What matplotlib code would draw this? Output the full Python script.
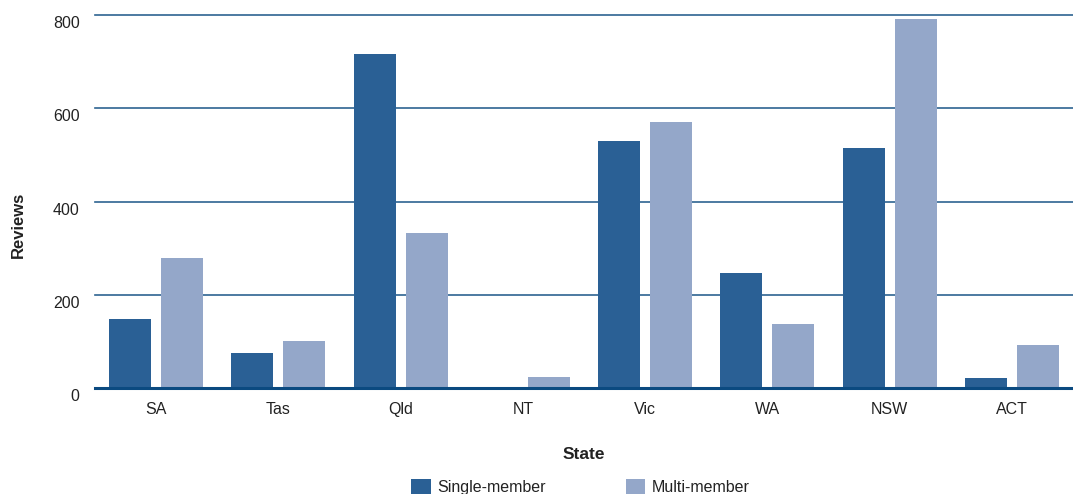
import matplotlib.pyplot as plt
import matplotlib.transforms as mtransforms
import numpy as np

plt.rcParams["font.family"] = ["Liberation Sans", "DejaVu Sans"]

# Reviews by state
states = ["SA", "Tas", "Qld", "NT", "Vic", "WA", "NSW", "ACT"]
single_member = [147, 75, 716, 0, 530, 247, 515, 21]
multi_member = [278, 101, 333, 24, 571, 137, 792, 92]

single_colour = "#2a6095"
multi_colour = "#94a7c9"

fig = plt.figure(figsize=(10.73, 4.94), dpi=100)
ax = fig.add_axes([0.0885, 0.2146, 0.9115, 0.755])

x = np.arange(len(states))
width = 0.344
gap = 0.082
ax.bar(x - (width + gap) / 2, single_member, width, color=single_colour,
       label="Single-member", zorder=3)
ax.bar(x + (width + gap) / 2, multi_member, width, color=multi_colour,
       label="Multi-member", zorder=3)

ax.set_xlim(-0.5, len(states) - 0.5)
ax.set_ylim(0, 800)
ax.set_yticks([0, 200, 400, 600, 800])
ax.set_xticks(x)
ax.set_xticklabels(states)

for y in [200, 400, 600, 800]:
    ax.axhline(y, color="#2d6391", lw=1.2, zorder=1, clip_on=False)
ax.axhline(0, color="#0b4a80", lw=2.2, zorder=4, clip_on=False)

for side in ["top", "right", "left", "bottom"]:
    ax.spines[side].set_visible(False)
ax.tick_params(axis="both", length=0, labelsize=11.5, colors="#222222")
ax.tick_params(axis="y", pad=11)
ax.tick_params(axis="x", pad=10)

# y labels sit a little below their gridlines
shift = mtransforms.ScaledTranslation(0, -7 / 100, fig.dpi_scale_trans)
for lbl in ax.get_yticklabels():
    lbl.set_transform(lbl.get_transform() + shift)

ax.set_ylabel("Reviews", fontsize=12, fontweight="bold", color="#222222")
ax.yaxis.set_label_coords(-0.071, 0.437)
ax.set_xlabel("State", fontsize=12.5, fontweight="bold", color="#222222",
              labelpad=22)

fig.legend(loc="lower center", bbox_to_anchor=(0.541, -0.032), ncol=2,
           frameon=False, fontsize=11.5, handlelength=1.2, handleheight=1.2,
           handletextpad=0.4, columnspacing=5.05, labelcolor="#222222")

fig.savefig("out.png", dpi=100)
